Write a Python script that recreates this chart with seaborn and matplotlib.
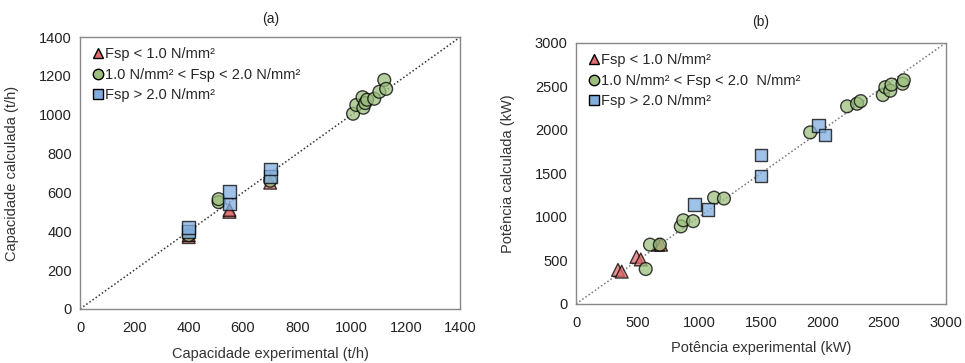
import seaborn as sns
import matplotlib.pyplot as plt
import pandas as pd
from matplotlib.ticker import MultipleLocator

# (a) capacity, t/h
tri_a_x = [400, 400, 550, 550, 700]
tri_a_y = [370, 380, 500, 510, 650]
circ_a_x = [400, 510, 510, 700, 1005, 1017, 1040, 1043, 1050, 1057, 1083, 1102, 1120, 1127]
circ_a_y = [380, 550, 565, 660, 1005, 1050, 1090, 1036, 1060, 1077, 1082, 1118, 1179, 1133]
sq_a_x = [400, 400, 550, 550, 700, 700]
sq_a_y = [400, 420, 540, 605, 680, 720]

# (b) power, kW
tri_b_x = [340, 370, 490, 525, 665, 690]
tri_b_y = [390, 370, 540, 510, 680, 680]
circ_b_x = [565, 600, 680, 850, 870, 950, 1120, 1200, 1900, 2200, 2280, 2310,
            2490, 2510, 2550, 2560, 2650, 2660]
circ_b_y = [400, 680, 680, 890, 960, 950, 1220, 1210, 1970, 2270, 2300, 2330,
            2400, 2490, 2450, 2520, 2530, 2570]
sq_b_x = [960, 1070, 1500, 1500, 1970, 2020]
sq_b_y = [1140, 1080, 1470, 1710, 2050, 1940]

groups_a = ['Fsp < 1.0 N/mm²', '1.0 N/mm² < Fsp < 2.0 N/mm²', 'Fsp > 2.0 N/mm²']
groups_b = ['Fsp < 1.0 N/mm²', '1.0 N/mm² < Fsp < 2.0  N/mm²', 'Fsp > 2.0 N/mm²']
colors = ['#E06C6E', '#9CBF7E', '#82AEDF']
markers = ['^', 'o', 's']


def make_df(xs, ys, groups):
    frames = []
    for x, y, g in zip(xs, ys, groups):
        frames.append(pd.DataFrame({'x': x, 'y': y, 'grupo': g}))
    return pd.concat(frames, ignore_index=True)


df_a = make_df([tri_a_x, circ_a_x, sq_a_x], [tri_a_y, circ_a_y, sq_a_y], groups_a)
df_b = make_df([tri_b_x, circ_b_x, sq_b_x], [tri_b_y, circ_b_y, sq_b_y], groups_b)

sns.set_style('white')
plt.rcParams['font.family'] = ['Liberation Sans', 'DejaVu Sans']
plt.rcParams['font.size'] = 10

fig = plt.figure(figsize=(9.65, 3.63), dpi=100)
ax1 = fig.add_axes([0.083, 0.149, 0.394, 0.749])
ax2 = fig.add_axes([0.597, 0.163, 0.383, 0.719])

panels = [
    (ax1, df_a, groups_a, 1400, 200, 100, '(a)', 'Capacidade experimental (t/h)',
     'Capacidade calculada (t/h)', '#333333', 10),
    (ax2, df_b, groups_b, 3000, 500, 250, '(b)', 'Potência experimental (kW)',
     'Potência calculada (kW)', '#777777', 12),
]

for ax, df, groups, lim, major, minor, title, xlab, ylab, lc, tpad in panels:
    ax.plot([0, lim], [0, lim], linestyle=(0, (1, 1.5)), color=lc, lw=1.1, zorder=1)
    sns.scatterplot(data=df, x='x', y='y', hue='grupo', style='grupo',
                    hue_order=groups, style_order=groups,
                    palette=dict(zip(groups, colors)),
                    markers=dict(zip(groups, markers)),
                    s=85, alpha=0.75, edgecolor='black', linewidth=1.0,
                    ax=ax, zorder=3)
    ax.set_xlim(0, lim)
    ax.set_ylim(0, lim)
    ax.xaxis.set_major_locator(MultipleLocator(major))
    ax.yaxis.set_major_locator(MultipleLocator(major))
    ax.xaxis.set_minor_locator(MultipleLocator(minor))
    ax.yaxis.set_minor_locator(MultipleLocator(minor))
    ax.tick_params(which='both', direction='in', color='#888888', length=4,
                   labelsize=10.5, labelcolor='#222222')
    ax.tick_params(axis='x', which='major', pad=9)
    ax.tick_params(axis='y', which='major', pad=6)
    for sp in ax.spines.values():
        sp.set_color('#888888')
        sp.set_linewidth(1.0)
    ax.set_title(title, fontsize=10, pad=tpad, color='#222222')
    ax.set_xlabel(xlab, fontsize=10.5, color='#333333', labelpad=8)
    ax.set_ylabel(ylab, fontsize=10.5, color='#333333', labelpad=14)
    handles, labels = ax.get_legend_handles_labels()
    for h in handles:
        h.set_markersize(7.5)
        h.set_alpha(1)
    ax.legend(handles, labels, loc='upper left', frameon=False, handletextpad=0.0,
              handlelength=1.0, labelspacing=0.45, borderaxespad=0.3,
              fontsize=10.5)

fig.savefig('out.png', dpi=100)
